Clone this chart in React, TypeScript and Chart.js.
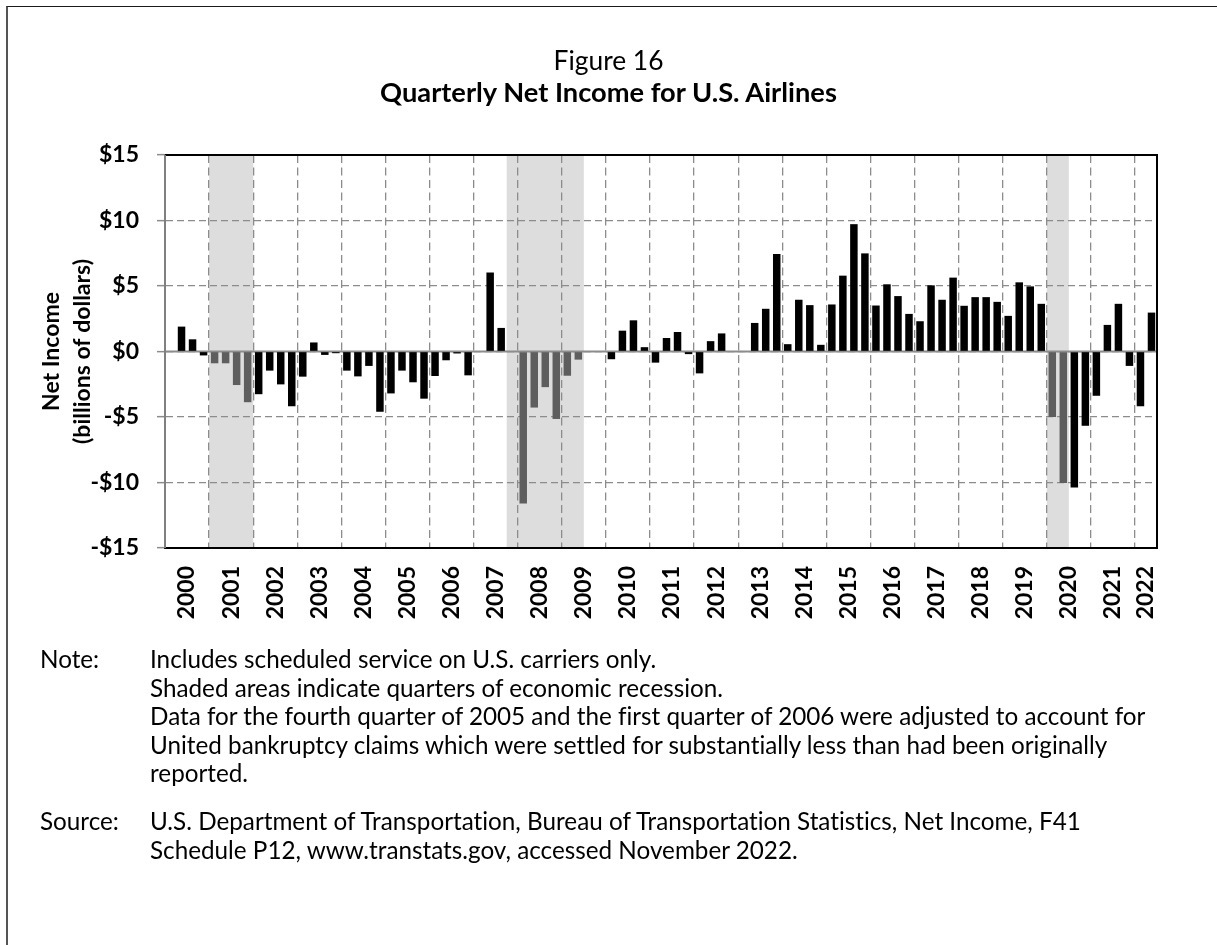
import React, { useEffect, useRef, useMemo } from "react";
import { Chart, registerables } from "chart.js";

Chart.register(...registerables);

const FONT = "Lato, 'Open Sans', sans-serif";

// ---------- data ----------
const years: number[] = [
  2000, 2001, 2002, 2003, 2004, 2005, 2006, 2007, 2008, 2009, 2010, 2011,
  2012, 2013, 2014, 2015, 2016, 2017, 2018, 2019, 2020, 2021, 2022,
];
const quarterNames: string[] = ["Q1", "Q2", "Q3", "Q4"];
const lastQuarter = "2022 Q2";
const allQuarters: string[] = years.flatMap((y) => quarterNames.map((q) => `${y} ${q}`));
const quarterLabels: string[] = allQuarters.slice(0, allQuarters.indexOf(lastQuarter) + 1);

// Net income, billions of dollars (null = no value shown)
const netIncome: (number | null)[] = [
  null, 1.9, 0.93, -0.3, // 2000
  -0.9, -0.9, -2.56, -3.87, // 2001
  -3.26, -1.46, -2.51, -4.18, // 2002
  -1.92, 0.69, -0.26, -0.13, // 2003
  -1.46, -1.9, -1.1, -4.6, // 2004
  -3.2, -1.46, -2.35, -3.6, // 2005
  -1.87, -0.67, -0.15, -1.82, // 2006
  0, 6.03, 1.8, 0, // 2007
  -11.6, -4.28, -2.72, -5.15, // 2008
  -1.85, -0.62, -0.05, 0, // 2009
  -0.59, 1.59, 2.38, 0.33, // 2010
  -0.85, 1.03, 1.49, -0.2, // 2011
  -1.67, 0.79, 1.38, 0, // 2012
  0, 2.18, 3.26, 7.44, // 2013
  0.56, 3.95, 3.54, 0.51, // 2014
  3.59, 5.79, 9.72, 7.49, // 2015
  3.51, 5.13, 4.23, 2.87, // 2016
  2.31, 5.05, 3.95, 5.64, // 2017
  3.49, 4.15, 4.15, 3.79, // 2018
  2.72, 5.28, 4.97, 3.64, // 2019
  -5.0, -10.03, -10.38, -5.67, // 2020
  -3.38, 2.03, 3.64, -1.1, // 2021
  -4.18, 2.97, // 2022
];

const recessionPeriods: [string, string][] = [
  ["2001 Q1", "2001 Q4"],
  ["2007 Q4", "2009 Q2"],
  ["2020 Q1", "2020 Q2"],
];

const yTickValues: number[] = [-15, -10, -5, 0, 5, 10, 15];

const titleLine1 = "Figure 16";
const titleLine2 = "Quarterly Net Income for U.S. Airlines";
const yAxisTitle: string[] = ["Net Income", "(billions of dollars)"];
const noteLines: string[] = [
  "Includes scheduled service on U.S. carriers only.",
  "Shaded areas indicate quarters of economic recession.",
  "Data for the fourth quarter of 2005 and the first quarter of 2006 were adjusted to account for",
  "United bankruptcy claims which were settled for substantially less than had been originally",
  "reported.",
];
const sourceLines: string[] = [
  "U.S. Department of Transportation, Bureau of Transportation Statistics, Net Income, F41",
  "Schedule P12, www.transtats.gov, accessed November 2022.",
];

// ---------- styling ----------
const W = 1217;
const H = 945;
const AREA_LEFT = 165;
const AREA_RIGHT = 1157;
const AREA_TOP = 155;
const AREA_BOTTOM = 548;
const BAR = "#000000";
const RECESSION_BAR = "#5e5e5e";
const SHADE = "#dddddd";
const GRID = "#8c8c8c";

function inRecession(i: number): boolean {
  return recessionPeriods.some(([s, e]) => {
    const a = quarterLabels.indexOf(s);
    const b = quarterLabels.indexOf(e);
    return i >= a && i <= b;
  });
}

function fitSize(text: string, weight: string, target: number): number {
  const c = document.createElement("canvas").getContext("2d");
  if (!c) return 22;
  c.font = `${weight} 100px ${FONT}`;
  const w = c.measureText(text).width;
  return w > 0 ? (100 * target) / w : 22;
}

export default function App() {
  const ref = useRef<HTMLCanvasElement>(null);

  const sizes = useMemo(() => {
    return {
      t1: fitSize(titleLine1, "normal", 110),
      t2: fitSize(titleLine2, "bold", 459),
      note: fitSize(noteLines[2], "normal", 998),
    };
  }, []);

  useEffect(() => {
    const canvas = ref.current;
    if (!canvas) return;

    // year label positions: middle of each year's quarters
    const yearLabelAt: Record<number, string> = {};
    years.forEach((y) => {
      const idx = quarterLabels
        .map((q, i) => (q.startsWith(String(y)) ? i : -1))
        .filter((i) => i >= 0);
      if (idx.length) {
        const at = idx[0] + idx.length / 2 - 1;
        yearLabelAt[at] = String(y);
      }
    });

    const shadePlugin = {
      id: "recessionShade",
      beforeDraw(chart: any) {
        const { ctx, chartArea, scales } = chart;
        const x = scales.x;
        const half = (x.getPixelForValue(1) - x.getPixelForValue(0)) / 2;
        ctx.save();
        ctx.fillStyle = SHADE;
        recessionPeriods.forEach(([s, e]) => {
          const i0 = quarterLabels.indexOf(s);
          const i1 = quarterLabels.indexOf(e);
          const x0 = x.getPixelForValue(i0) - half;
          const x1 = x.getPixelForValue(i1) + half;
          ctx.fillRect(x0, chartArea.top, x1 - x0, chartArea.bottom - chartArea.top);
        });
        ctx.restore();
      },
      beforeDatasetsDraw(chart: any) {
        const { ctx, chartArea, scales } = chart;
        const y0 = scales.y.getPixelForValue(0);
        ctx.save();
        ctx.strokeStyle = GRID;
        ctx.lineWidth = 2;
        ctx.setLineDash([]);
        ctx.beginPath();
        ctx.moveTo(chartArea.left, y0);
        ctx.lineTo(chartArea.right, y0);
        ctx.stroke();
        ctx.restore();
      },
      afterDatasetsDraw(chart: any) {
        const { ctx, chartArea } = chart;
        const { left, right, top, bottom } = chartArea;
        ctx.save();
        ctx.setLineDash([]);
        ctx.lineWidth = 2;
        ctx.strokeStyle = "#000";
        ctx.beginPath();
        ctx.moveTo(left, top);
        ctx.lineTo(right, top);
        ctx.lineTo(right, bottom);
        ctx.lineTo(left, bottom);
        ctx.stroke();
        ctx.strokeStyle = "#808080";
        ctx.beginPath();
        ctx.moveTo(left, top);
        ctx.lineTo(left, bottom);
        ctx.stroke();
        ctx.restore();
      },
    };

    const slotHalf = (AREA_RIGHT - AREA_LEFT) / quarterLabels.length / 2;

    const chart = new Chart(canvas, {
      type: "bar",
      data: {
        labels: quarterLabels,
        datasets: [
          {
            label: "Net Income",
            data: netIncome as any,
            backgroundColor: netIncome.map((_, i) => (inRecession(i) ? RECESSION_BAR : BAR)),
            borderWidth: 0,
            barPercentage: 0.68,
            categoryPercentage: 1,
          },
        ],
      },
      options: {
        responsive: false,
        animation: false,
        devicePixelRatio: 1,
        layout: { padding: { left: 0, right: W - AREA_RIGHT, top: AREA_TOP, bottom: 0 } },
        plugins: {
          legend: { display: false },
          tooltip: { enabled: false },
          title: { display: false },
        },
        scales: {
          x: {
            type: "category",
            offset: true,
            grid: {
              offset: true,
              drawTicks: false,
              lineWidth: 1.3,
              color: (ctx: any) =>
                ctx.index !== undefined && ctx.index > 0 && ctx.index % 4 === 0
                  ? GRID
                  : "rgba(0,0,0,0)",
            },
            border: { display: true, color: "#000", width: 2, dash: [8, 4.5] },
            ticks: {
              autoSkip: false,
              minRotation: 90,
              maxRotation: 90,
              padding: 18,
              labelOffset: slotHalf,
              color: "#000",
              font: { family: FONT, size: 23, weight: "bold" },
              callback: (_v: any, i: number) => yearLabelAt[i] ?? "",
            },
            afterFit: (s: any) => {
              s.height = H - AREA_BOTTOM;
            },
          },
          y: {
            min: -15,
            max: 15,
            afterBuildTicks: (s: any) => {
              s.ticks = yTickValues.map((v) => ({ value: v }));
            },
            grid: {
              color: GRID,
              lineWidth: 1.3,
              drawTicks: true,
              tickLength: 8,
              tickColor: GRID,
              tickWidth: 1.5,
            },
            border: {
              display: true,
              color: "#808080",
              width: 2,
              dash: [7, 4],
            },
            ticks: {
              padding: 18,
              color: "#000",
              font: { family: FONT, size: 23, weight: "bold" },
              callback: (v: any) => (Number(v) < 0 ? `-$${Math.abs(Number(v))}` : `$${v}`),
            },
            title: {
              display: true,
              text: yAxisTitle,
              color: "#000",
              font: { family: FONT, size: 23, weight: "bold", lineHeight: 1.35 },
              padding: { top: 36, bottom: 0 },
            },
            afterFit: (s: any) => {
              s.width = AREA_LEFT;
            },
          },
        },
      },
      plugins: [shadePlugin],
    });

    return () => chart.destroy();
  }, []);

  const textBase: React.CSSProperties = {
    position: "absolute",
    fontFamily: FONT,
    color: "#000",
    whiteSpace: "nowrap",
    fontVariantLigatures: "none",
    fontFeatureSettings: '"liga" 0, "clig" 0, "dlig" 0',
  };

  return (
    <div
      style={{
        position: "fixed",
        left: 0,
        top: 0,
        width: W,
        height: H,
        overflow: "hidden",
        background: "#fff",
      }}
    >
      <div
        style={{
          position: "absolute",
          left: 6,
          top: 6,
          width: W + 100,
          height: H + 100,
          borderLeft: "2px solid #555",
          borderTop: "1px solid #1a1a1a",
        }}
      />
      <canvas
        ref={ref}
        width={W}
        height={H}
        style={{ position: "absolute", left: 0, top: 0, width: W, height: H }}
      />
      <div
        style={{
          ...textBase,
          left: 0,
          width: W,
          textAlign: "center",
          top: 44,
          fontSize: sizes.t1,
          lineHeight: "32px",
        }}
      >
        {titleLine1}
      </div>
      <div
        style={{
          ...textBase,
          left: 0,
          width: W,
          textAlign: "center",
          top: 76,
          fontSize: sizes.t2,
          fontWeight: "bold",
          lineHeight: "32px",
        }}
      >
        {titleLine2}
      </div>
      <div style={{ ...textBase, left: 40, top: 645, fontSize: sizes.note, lineHeight: "28.5px" }}>
        Note:
      </div>
      <div style={{ ...textBase, left: 150, top: 645, fontSize: sizes.note, lineHeight: "28.5px" }}>
        {noteLines.map((l, i) => (
          <div key={i}>{l}</div>
        ))}
      </div>
      <div style={{ ...textBase, left: 40, top: 807, fontSize: sizes.note, lineHeight: "28.5px" }}>
        Source:
      </div>
      <div style={{ ...textBase, left: 150, top: 807, fontSize: sizes.note, lineHeight: "28.5px" }}>
        {sourceLines.map((l, i) => (
          <div key={i}>{l}</div>
        ))}
      </div>
    </div>
  );
}
